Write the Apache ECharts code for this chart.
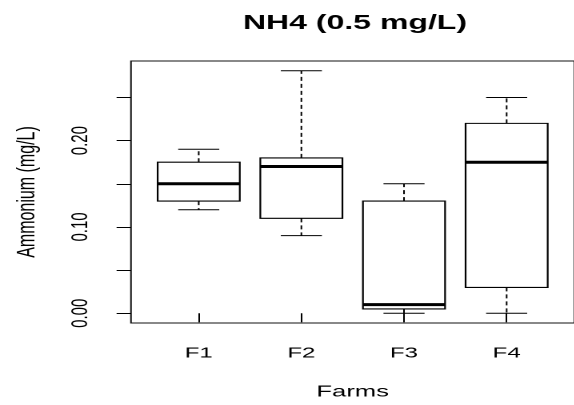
<!DOCTYPE html>
<html>
<head>
<meta charset="utf-8">
<script src="https://cdn.jsdelivr.net/npm/echarts@6/dist/echarts.min.js"></script>
<style>
  html, body { margin: 0; padding: 0; background: #fff; }
  #wrap { width: 574px; height: 405px; overflow: hidden; position: relative; background: #fff; }
  /* the plot is laid out on a narrower canvas and widened horizontally */
  #chart { width: 358.75px; height: 405px; transform: scaleX(1.6); transform-origin: 0 0; }
</style>
</head>
<body>
<div id="wrap"><div id="chart"></div></div>
<script>
// Ammonium per farm: five-number summaries
const categories = ['F1', 'F2', 'F3', 'F4'];
const lowerWhisker = [0.12, 0.09, 0.00, 0.00];
const q1 = [0.13, 0.11, 0.005, 0.03];
const median = [0.15, 0.17, 0.01, 0.175];
const q3 = [0.175, 0.18, 0.13, 0.22];
const upperWhisker = [0.19, 0.281, 0.15, 0.25];

// axis ticks
const yTickValues = [0, 0.05, 0.10, 0.15, 0.20, 0.25];
const yLabelValues = [0, 0.10, 0.20];
const xTickValues = [1, 2, 3, 4];

const SX = 1.6;            // horizontal stretch of the drawing
const BOX_HALF = 0.4;      // half box width, in category units
const CAP_HALF = 0.2;      // half whisker-cap width

const data = categories.map((c, i) => [i + 1, lowerWhisker[i], q1[i], median[i], q3[i], upperWhisker[i]]);

const chart = echarts.init(document.getElementById('chart'), null, { renderer: 'canvas', devicePixelRatio: 2 });

const font = "'Liberation Sans', Arial, sans-serif";

chart.setOption({
  backgroundColor: '#fff',
  animation: false,
  graphic: [{
    type: 'text',
    x: 355 / SX,
    y: 23.5,
    style: {
      text: 'NH4 (0.5 mg/L)',
      fontFamily: font,
      fontSize: 20,
      fontWeight: 'bold',
      fill: '#000',
      textAlign: 'center',
      textVerticalAlign: 'middle'
    }
  }],
  grid: {
    left: 131 / SX,
    top: 61,
    width: (578 - 131) / SX,
    height: 267,
    show: true,
    borderColor: '#111',
    borderWidth: 1,
    backgroundColor: 'transparent'
  },
  xAxis: {
    type: 'value',
    min: 0.34,
    max: 4.66,
    name: 'Farms',
    nameLocation: 'middle',
    nameGap: 61,
    nameTextStyle: { fontFamily: font, fontSize: 16, color: '#000' },
    axisLine: { show: false },
    splitLine: { show: false },
    axisTick: { show: true, customValues: xTickValues, length: 9, lineStyle: { color: '#000', width: 1 } },
    axisLabel: {
      customValues: xTickValues,
      formatter: v => categories[Math.round(v) - 1],
      margin: 23,
      fontFamily: font,
      fontSize: 15,
      color: '#000'
    }
  },
  yAxis: {
    type: 'value',
    min: -0.01124,
    max: 0.29224,
    name: 'Ammonium (mg/L)',
    nameLocation: 'middle',
    nameGap: 57,
    nameRotate: 90,
    nameTextStyle: { fontFamily: font, fontSize: 16, color: '#000' },
    axisLine: { show: false },
    splitLine: { show: false },
    axisTick: { show: true, customValues: yTickValues, length: 9, lineStyle: { color: '#000', width: 1 } },
    axisLabel: {
      customValues: yLabelValues,
      formatter: v => v.toFixed(2),
      rotate: 90,
      margin: 24,
      fontFamily: font,
      fontSize: 15,
      color: '#000'
    }
  },
  series: [{
    type: 'custom',
    data: data,
    encode: { x: 0, y: [1, 2, 3, 4, 5] },
    renderItem: function (params, api) {
      const x = api.value(0);
      const lo = api.value(1), b = api.value(2), m = api.value(3), t = api.value(4), hi = api.value(5);
      const pBL = api.coord([x - BOX_HALF, b]);
      const pTR = api.coord([x + BOX_HALF, t]);
      const mL = api.coord([x - BOX_HALF, m]);
      const mR = api.coord([x + BOX_HALF, m]);
      const c = api.coord([x, 0])[0];
      const yLo = api.coord([x, lo])[1];
      const yHi = api.coord([x, hi])[1];
      const capL = api.coord([x - CAP_HALF, 0])[0];
      const capR = api.coord([x + CAP_HALF, 0])[0];
      const solid = { stroke: '#000', lineWidth: 1, fill: null };
      const dashed = { stroke: '#000', lineWidth: 1, lineDash: [4, 3], fill: null };
      return {
        type: 'group',
        children: [
          { type: 'line', shape: { x1: c, y1: pTR[1], x2: c, y2: yHi }, style: dashed },
          { type: 'line', shape: { x1: c, y1: pBL[1], x2: c, y2: yLo }, style: dashed },
          { type: 'line', shape: { x1: capL, y1: yHi, x2: capR, y2: yHi }, style: solid },
          { type: 'line', shape: { x1: capL, y1: yLo, x2: capR, y2: yLo }, style: solid },
          { type: 'rect', shape: { x: pBL[0], y: pTR[1], width: pTR[0] - pBL[0], height: pBL[1] - pTR[1] },
            style: { stroke: '#000', lineWidth: 1.1, fill: '#fff' } },
          { type: 'line', shape: { x1: mL[0], y1: mL[1], x2: mR[0], y2: mR[1] },
            style: { stroke: '#000', lineWidth: 3 } }
        ]
      };
    }
  }]
});
</script>
</body>
</html>
